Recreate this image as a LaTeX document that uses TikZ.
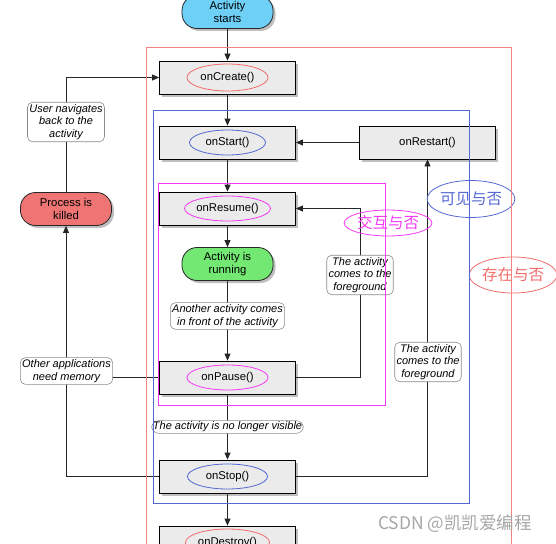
\documentclass[tikz,border=0pt]{standalone}
\usepackage{fontspec}
\setmainfont{Liberation Sans}
\newfontfamily\cjk{Noto Sans CJK SC}
\usetikzlibrary{shapes.geometric,shadows,arrows.meta}
\definecolor{boxgray}{HTML}{EBEBEB}
\definecolor{ovred}{HTML}{F26B6B}
\definecolor{ovblue}{HTML}{5468D4}
\definecolor{ovmag}{HTML}{F53AF5}
\definecolor{pillcyan}{HTML}{6FD0F7}
\definecolor{pillgreen}{HTML}{73E873}
\definecolor{pillred}{HTML}{EF7575}
\begin{document}
\begin{tikzpicture}[x=1pt,y=-1pt,
  font=\fontsize{11.3}{12.5}\selectfont,
  shad/.style={drop shadow={shadow xshift=2.5pt,shadow yshift=-2.5pt,opacity=0.5}},
  method/.style={draw=black, line width=0.8pt, fill=boxgray, minimum width=136pt, minimum height=33pt, inner sep=0pt, shad},
  pill/.style={draw=black!85, line width=0.8pt, rounded corners=15pt, minimum width=91pt, minimum height=33pt, inner sep=1pt, align=center, shad},
  oval/.style={ellipse, line width=0.8pt, minimum width=80pt, minimum height=25pt, inner sep=0pt},
  lbl/.style={draw=black!45, line width=0.6pt, fill=white, rounded corners=5pt, align=center, inner sep=1.8pt, font=\itshape\fontsize{11}{12.8}\selectfont},
  conn/.style={draw=black!85, line width=0.8pt},
  arr/.style={conn, -{Triangle[length=7pt,width=6pt]}},
  tag/.style={ellipse, line width=0.8pt, inner sep=0pt, font=\cjk\fontsize{15.5}{16}\selectfont}
]
\useasboundingbox (0,0) rectangle (556,543);

% method boxes
\node[method] (onCreate) at (227.5,77.5) {onCreate()};
\node[method] (onStart) at (227.5,142.5) {onStart()};
\node[method] (onRestart) at (427.5,142.5) {onRestart()};
\node[method] (onResume) at (227.5,208.5) {onResume()};
\node[method] (onPause) at (227.5,377.5) {onPause()};
\node[method] (onStop) at (227.5,476.5) {onStop()};
\node[method] (onDestroy) at (227.5,542.5) {onDestroy()};

% ovals inside boxes
\node[oval, draw=ovred, minimum width=81pt, minimum height=27pt] (eCreate) at (onCreate.center) {};
\node[oval, draw=ovblue, minimum width=76pt, minimum height=25pt] (eStart) at (onStart.center) {};
\node[oval, draw=ovmag, minimum width=86pt, minimum height=25pt] (eResume) at (onResume.center) {};
\node[oval, draw=ovmag, minimum width=81pt, minimum height=25pt] (ePause) at (onPause.center) {};
\node[oval, draw=ovblue, minimum width=80pt, minimum height=25pt] (eStop) at (onStop.center) {};
\node[oval, draw=ovred, minimum width=84pt, minimum height=27pt] (eDestroy) at (onDestroy.center) {};

% pills
\node[pill, fill=pillcyan] (start) at (227.5,12) {Activity\\starts};
\node[pill, fill=pillgreen] (running) at (227.5,264) {Activity is\\running};
\node[pill, fill=pillred] (killed) at (66,209) {Process is\\killed};

% connectors
\draw[arr] (start) -- (onCreate);
\draw[arr] (onCreate) -- (onStart);
\draw[arr] (onRestart) -- (onStart);
\draw[arr] (onStart) -- (onResume);
\draw[arr] (onResume) -- (running);
\draw[arr] (running) -- (onPause);
\draw[arr] (onPause.east) -- ++(64.5,0) |- (onResume.east);
\draw[arr] (onPause) -- (onStop);
\draw[arr] (onStop) -- (onDestroy);
\draw[arr] (onStop.east) -| (onRestart.south);
\draw[arr] (onPause.west) -| (killed.south);
\draw[conn] (onStop.west) -| (killed.south |- onPause.west);
\draw[arr] (killed.north) |- (onCreate.west);

% labels
\node[lbl] (lUser) at (66,122) {User navigates\\back to the\\activity};
\node[lbl] (lOther) at (66.5,371) {Other applications\\need memory};
\node[lbl] (lAnother) at (227.5,316) {Another activity comes\\in front of the activity};
\node[lbl] (lFg1) at (360,275) {The activity\\comes to the\\foreground};
\node[lbl] (lFg2) at (428,362) {The activity\\comes to the\\foreground};
\node[lbl, rounded corners=7pt, inner sep=1.2pt] (lVisible) at (227.5,427) {The activity is no longer visible};

% tags
\node[tag, draw=ovmag, text=ovmag, minimum width=84pt, minimum height=26pt] (tInteract) at (388,223) {交互与否};
\node[tag, draw=ovblue, text=ovblue, minimum width=73pt, minimum height=37pt] (tVisible) at (471,199) {可见与否};
\node[tag, draw=ovred, text=ovred, minimum width=83pt, minimum height=36pt] (tExist) at (513,275) {存在与否};

% scope rectangles
\draw[ovred!85, line width=0.8pt] (146,47) rectangle (511,560);
\draw[ovblue, line width=0.8pt] (153,110) rectangle (469,503);
\draw[ovmag, line width=0.8pt] (158,183) rectangle (385,405);

% watermark
\node[text=black!35, font=\cjk\fontsize{17.5}{18}\selectfont] (wm) at (455,524) {CSDN @凯凯爱编程};
\end{tikzpicture}
\end{document}
